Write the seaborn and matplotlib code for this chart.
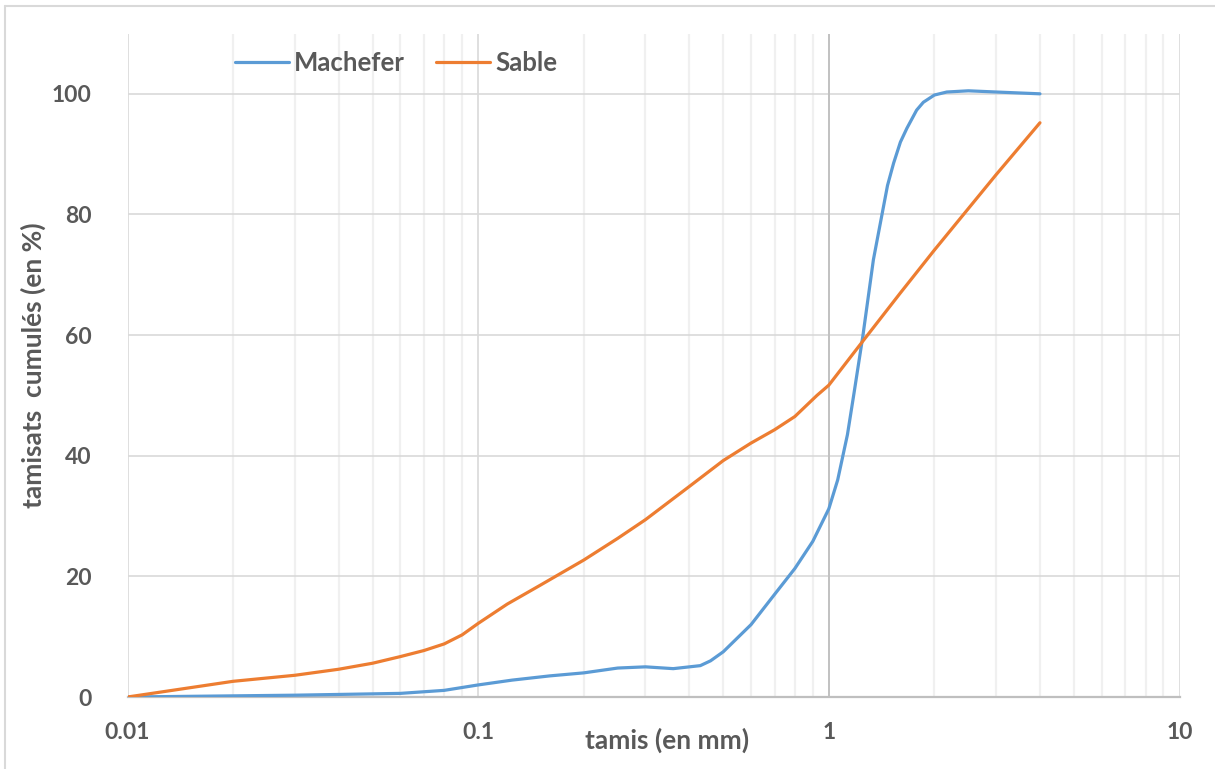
import matplotlib
matplotlib.use("Agg")
import matplotlib.pyplot as plt
import matplotlib.ticker as mticker
import seaborn as sns
import pandas as pd

# values
machefer_x = [0.01, 0.03, 0.06, 0.08, 0.1, 0.125, 0.16, 0.2, 0.25, 0.3, 0.36, 0.43, 0.46,
              0.5, 0.6, 0.7, 0.8, 0.9, 1.0, 1.06, 1.13, 1.18, 1.25, 1.34, 1.47, 1.53,
              1.6, 1.67, 1.78, 1.86, 2.0, 2.17, 2.5, 3.0, 4.0]
machefer_y = [0, 0.3, 0.6, 1.1, 2.0, 2.8, 3.5, 4.0, 4.8, 5.0, 4.7, 5.2, 6.0,
              7.5, 12.0, 17.0, 21.3, 25.8, 31.2, 36.0, 43.5, 50.4, 59.8, 72.5, 84.8, 88.5,
              92.0, 94.3, 97.3, 98.6, 99.8, 100.3, 100.5, 100.3, 100.0]

sable_x = [0.01, 0.02, 0.03, 0.04, 0.05, 0.06, 0.07, 0.08, 0.09, 0.1, 0.121, 0.15,
           0.2, 0.25, 0.3, 0.4, 0.5, 0.6, 0.7, 0.8, 0.925, 1.0, 1.22, 1.6, 2.0, 3.0, 4.0]
sable_y = [0, 2.6, 3.6, 4.6, 5.6, 6.7, 7.7, 8.8, 10.3, 12.2, 15.4, 18.5,
           22.7, 26.3, 29.4, 34.9, 39.2, 42.1, 44.3, 46.5, 50.0, 51.7, 58.2, 67.0, 74.1, 86.6, 95.2]

series_names = ["Machefer", "Sable"]
series_colors = ["#5B9BD5", "#ED7D31"]
y_ticks = [0, 20, 40, 60, 80, 100]
x_ticks = [0.01, 0.1, 1, 10]
x_tick_labels = ["0.01", "0.1", "1", "10"]

machefer_df = pd.DataFrame({"tamis": machefer_x, "tamisat": machefer_y})
sable_df = pd.DataFrame({"tamis": sable_x, "tamisat": sable_y})

sns.set_theme(style="white")
plt.rcParams["font.family"] = ["Lato", "DejaVu Sans"]
plt.rcParams["font.weight"] = "bold"

text_col = "#595959"
fig = plt.figure(figsize=(12.15, 7.69), dpi=100)
ax = fig.add_axes([127.5 / 1215, 1 - 697 / 769, (1179.5 - 127.5) / 1215, (697 - 33.5) / 769])

# grid first so the curves sit on top
ax.set_xscale("log")
ax.set_xlim(0.01, 10)
ax.set_ylim(0, 110)
ax.xaxis.set_minor_locator(mticker.LogLocator(base=10, subs=range(2, 10)))
ax.grid(True, which="minor", axis="x", color="#F0F0F0", lw=1.6, zorder=0)
ax.grid(True, which="major", axis="x", color="#D9D9D9", lw=1.2, zorder=0)
ax.grid(True, which="major", axis="y", color="#D9D9D9", lw=1.2, zorder=0)
ax.set_axisbelow(True)
ax.axvline(1, color="#BFBFBF", lw=1.3, zorder=1)

for df, name, col in zip([machefer_df, sable_df], series_names, series_colors):
    sns.lineplot(data=df, x="tamis", y="tamisat", ax=ax, color=col, lw=2.3,
                 estimator=None, sort=False, label=name, zorder=3)

ax.set_xticks(x_ticks)
ax.set_xticklabels(x_tick_labels)
ax.set_yticks(y_ticks)
ax.tick_params(axis="x", which="both", length=0, pad=18, labelsize=16.5, labelcolor=text_col)
ax.tick_params(axis="y", length=0, pad=26, labelsize=16.5, labelcolor=text_col)
for lab in ax.get_xticklabels() + ax.get_yticklabels():
    lab.set_fontweight("bold")

for s in ["top", "right", "left"]:
    ax.spines[s].set_visible(False)
ax.spines["bottom"].set_color("#BFBFBF")
ax.spines["bottom"].set_linewidth(1.6)

ax.set_xlabel("")
ax.set_ylabel("tamisats  cumulés (en %)", fontsize=19, fontweight="bold", color=text_col)
ax.yaxis.set_label_coords(-0.077, 0.5)
fig.text(667 / 1215, 1 - 740 / 769, "tamis (en mm)", ha="center", va="center",
         fontsize=19, fontweight="bold", color=text_col)

handles, labels = ax.get_legend_handles_labels()
ax.get_legend().remove()
fig.legend(handles, labels, loc="center", bbox_to_anchor=(396 / 1215, 1 - 63 / 769), ncol=2,
           frameon=False, handlelength=2.1, handletextpad=0.2, columnspacing=1.2,
           prop={"size": 18.5, "weight": "bold"}, labelcolor=text_col)

# chart-area border (only top and left edges show in the reference)
fig.add_artist(plt.Line2D([5 / 1215, 5 / 1215], [0, 1 - 6 / 769], color="#D9D9D9", lw=1.5,
                          transform=fig.transFigure))
fig.add_artist(plt.Line2D([5 / 1215, 1], [1 - 6 / 769, 1 - 6 / 769], color="#D9D9D9", lw=1.5,
                          transform=fig.transFigure))

fig.savefig("out.png", dpi=100, facecolor="white")
